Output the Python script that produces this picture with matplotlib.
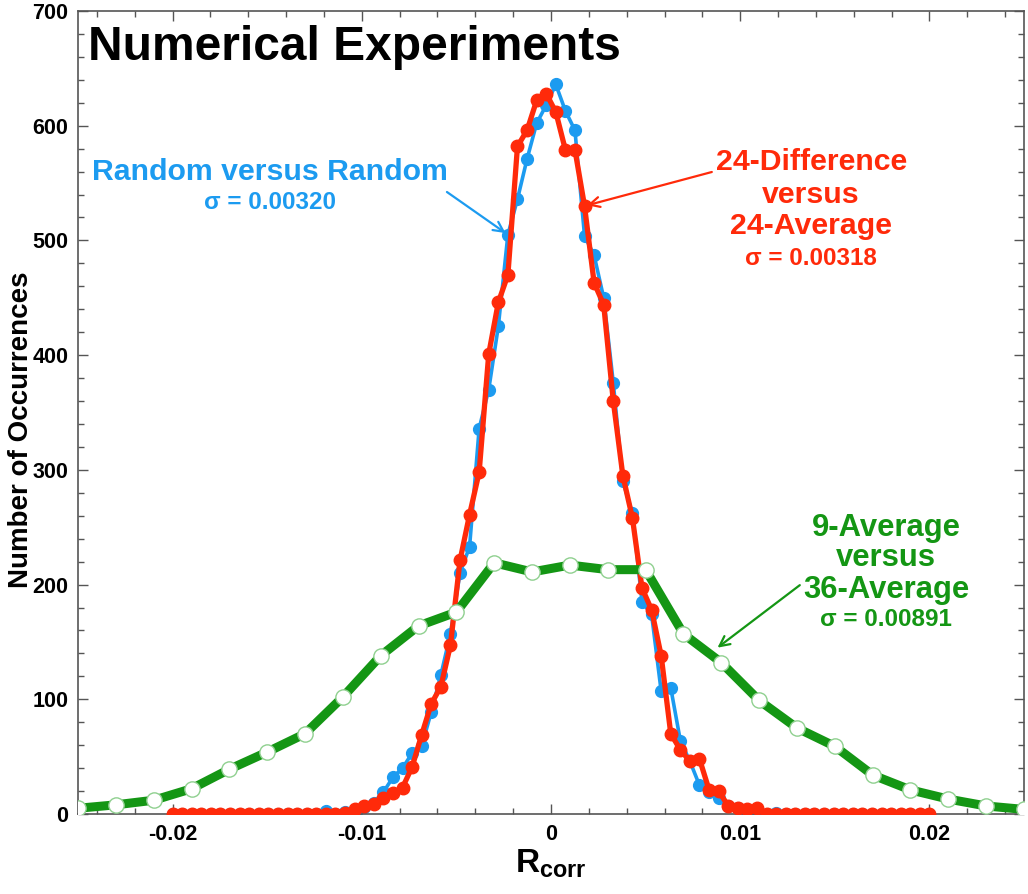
import numpy as np
import matplotlib
matplotlib.use("Agg")
import matplotlib.pyplot as plt

plt.rcParams['font.family'] = ['Liberation Sans', 'DejaVu Sans']
plt.rcParams['font.weight'] = 'bold'
plt.rcParams['mathtext.fontset'] = 'custom'
plt.rcParams['mathtext.bf'] = 'Liberation Sans:bold'
plt.rcParams['mathtext.rm'] = 'Liberation Sans:bold'

# histogram bins of the correlation coefficient
r_fine = np.linspace(-0.02, 0.02, 80)
random_counts = [0, 0, 0, 0, 0, 0, 0, 0, 0, 0, 0, 0, 0, 0, 0, 0,
                 3, 0, 2, 1, 6, 10, 19, 32, 40, 53, 59, 89, 121, 157,
                 210, 233, 336, 370, 425, 505, 536, 571, 602, 618, 636,
                 613, 596, 504, 487, 450, 376, 290, 262, 185, 174, 107,
                 110, 64, 46, 25, 19, 14, 7, 5, 3, 2, 0, 1,
                 0, 0, 0, 0, 0, 0, 0, 0, 0, 0, 0, 0, 0, 0, 0, 0]
diff_counts = [0, 0, 0, 0, 0, 0, 0, 0, 0, 0, 0, 0, 0, 0, 0, 0, 0, 0,
               1, 4, 7, 9, 14, 18, 23, 41, 69, 96, 111, 147, 221, 261,
               298, 401, 446, 470, 582, 596, 622, 628, 612, 579, 579,
               530, 463, 444, 360, 295, 258, 197, 178, 138, 70, 56, 46,
               48, 21, 20, 7, 5, 4, 5,
               0, 0, 0, 0, 0, 0, 0, 0, 0, 0, 0, 0, 0, 0, 0, 0, 0, 0]
r_coarse = np.arange(-0.025, 0.0251, 0.002)
avg_counts = [5, 8, 12, 22, 39, 54, 70, 102, 138, 164, 176, 219, 211,
              217, 213, 213, 157, 132, 99, 75, 59, 34, 21, 13, 7, 4]

blue = '#1C9BF0'
red = '#FF2A0A'
green = '#149614'

fig = plt.figure(figsize=(10.28, 8.94), dpi=100)
ax = fig.add_axes([78/1028, 1 - 814/894, 946/1028, 803/894])

ax.plot(r_fine, random_counts, '-o', color=blue, lw=2.6, ms=8.5, zorder=2)
ax.plot(r_fine, diff_counts, '-o', color=red, lw=3.8, ms=9, zorder=3)
ax.plot(r_coarse, avg_counts, '-o', color=green, lw=6.5, ms=11,
        mfc='white', mec='#8FD08F', mew=1, zorder=4)

ax.set_xlim(-0.025, 0.025)
ax.set_ylim(0, 700)
ax.set_xticks([-0.02, -0.01, 0, 0.01, 0.02])
ax.set_xticklabels(['-0.02', '-0.01', '0', '0.01', '0.02'])
ax.set_xticks(np.arange(-0.024, 0.0241, 0.002), minor=True)
ax.set_yticks(range(0, 701, 100))
ax.set_yticks(range(0, 701, 20), minor=True)
ax.tick_params(which='both', direction='in', top=True, right=True,
               color='#555555', labelsize=15.5)
ax.tick_params(which='major', length=7, width=1, pad=7)
ax.tick_params(which='minor', length=4, width=1)
for lab in ax.get_xticklabels() + ax.get_yticklabels():
    lab.set_fontweight('bold')
for s in ax.spines.values():
    s.set_color('#555555')
    s.set_linewidth(1.2)

ax.set_ylabel('Number of Occurrences', fontsize=20, fontweight='bold')
ax.yaxis.set_label_coords(-0.047, 0.478)
ax.set_xlabel(r'$\mathbf{R}_{\mathbf{corr}}$', fontsize=24, labelpad=2)

ax.text(0.0106, 0.939, 'Numerical Experiments', transform=ax.transAxes,
        fontsize=34.5, fontweight='bold', va='baseline', ha='left')

# blue label
ax.text(0.203, 0.7995, 'Random versus Random', transform=ax.transAxes,
        color=blue, fontsize=21.8, fontweight='bold', ha='center', va='center')
ax.text(0.203, 0.761, 'σ = 0.00320', transform=ax.transAxes,
        color=blue, fontsize=17.5, fontweight='bold', ha='center', va='center')
ax.annotate('', xy=(r_fine[35], random_counts[35]), xycoords='data',
            xytext=(0.390, 0.7746), textcoords='axes fraction',
            arrowprops=dict(arrowstyle='->', color=blue, lw=1.6,
                            shrinkA=0, shrinkB=2, mutation_scale=18))

# red label
for txt, yy, fs in [('24-Difference', 0.812, 21.8), ('versus', 0.771, 21.8),
                    ('24-Average', 0.732, 21.8), ('σ = 0.00318', 0.692, 17.5)]:
    ax.text(0.775, yy, txt, transform=ax.transAxes, color=red, fontsize=fs,
            fontweight='bold', ha='center', va='center')
ax.annotate('', xy=(r_fine[43], diff_counts[43]), xycoords='data',
            xytext=(0.670, 0.7995), textcoords='axes fraction',
            arrowprops=dict(arrowstyle='->', color=red, lw=1.6,
                            shrinkA=0, shrinkB=2, mutation_scale=18))

# green label
for txt, yy, fs in [('9-Average', 0.356, 22.3), ('versus', 0.319, 22.3),
                    ('36-Average', 0.279, 22.3), ('σ = 0.00891', 0.2416, 17.5)]:
    ax.text(0.854, yy, txt, transform=ax.transAxes, color=green, fontsize=fs,
            fontweight='bold', ha='center', va='center')
ax.annotate('', xy=(0.0088, 145), xycoords='data',
            xytext=(0.763, 0.285), textcoords='axes fraction',
            arrowprops=dict(arrowstyle='->', color=green, lw=1.6,
                            shrinkA=0, shrinkB=0, mutation_scale=18))

fig.savefig('out.png', dpi=100)
